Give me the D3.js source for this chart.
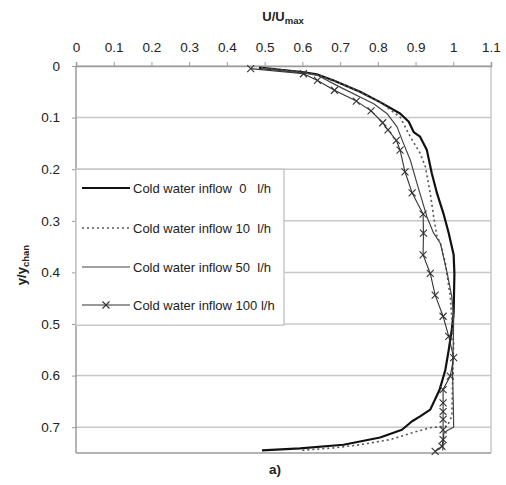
<!DOCTYPE html>
<html><head><meta charset="utf-8">
<script src="https://cdn.jsdelivr.net/npm/d3@7"></script>
<style>body{margin:0;background:#fff}svg{display:block;font-family:"Liberation Sans",Arial,sans-serif}</style>
</head><body><svg id="c" width="506" height="485"></svg>
<script>
const xTicks = [0,0.1,0.2,0.3,0.4,0.5,0.6,0.7,0.8,0.9,1,1.1];
const yTicks = [0,0.1,0.2,0.3,0.4,0.5,0.6,0.7];
const seriesNames = ["Cold water inflow  0   l/h","Cold water inflow 10  l/h","Cold water inflow 50  l/h","Cold water inflow 100 l/h"];
// [U/Umax, y/ychan]
const s0 = [[0.485,0.003],[0.6,0.012],[0.638,0.016],[0.683,0.028],[0.753,0.05],[0.806,0.07],[0.859,0.092],[0.882,0.108],[0.895,0.128],[0.912,0.137],[0.930,0.163],[0.943,0.208],[0.957,0.247],[0.974,0.286],[0.988,0.324],[1.001,0.366],[1.003,0.402],[1.002,0.44],[1.001,0.479],[0.996,0.511],[0.988,0.55],[0.979,0.589],[0.964,0.627],[0.939,0.666],[0.912,0.679],[0.890,0.689],[0.864,0.705],[0.806,0.72],[0.709,0.734],[0.594,0.741],[0.493,0.745]];
const s10 = [[0.49,0.003],[0.6,0.012],[0.64,0.017],[0.685,0.029],[0.755,0.051],[0.81,0.072],[0.859,0.099],[0.886,0.137],[0.912,0.169],[0.926,0.195],[0.939,0.247],[0.948,0.292],[0.957,0.331],[0.966,0.344],[0.979,0.382],[0.992,0.447],[0.996,0.485],[1.001,0.537],[0.999,0.589],[0.996,0.679],[0.984,0.698],[0.939,0.701],[0.895,0.710],[0.833,0.724],[0.753,0.734],[0.683,0.740],[0.594,0.745]];
const s50 = [[0.49,0.004],[0.6,0.013],[0.64,0.018],[0.70,0.041],[0.789,0.073],[0.824,0.092],[0.851,0.118],[0.868,0.150],[0.886,0.182],[0.904,0.228],[0.917,0.26],[0.930,0.292],[0.948,0.324],[0.966,0.344],[0.984,0.402],[0.996,0.447],[1.001,0.485],[1.0,0.54],[0.998,0.595],[1.0,0.65],[1.001,0.700],[0.985,0.706],[0.975,0.712],[0.972,0.745]];
const s100 = [[0.463,0.005],[0.603,0.015],[0.64,0.028],[0.685,0.047],[0.743,0.068],[0.782,0.087],[0.813,0.110],[0.827,0.124],[0.849,0.144],[0.859,0.163],[0.872,0.205],[0.891,0.246],[0.920,0.287],[0.921,0.324],[0.920,0.366],[0.939,0.402],[0.952,0.444],[0.973,0.485],[0.988,0.524],[1.001,0.565],[0.992,0.601],[0.973,0.627],[0.973,0.653],[0.973,0.670],[0.973,0.685],[0.973,0.705],[0.973,0.724],[0.970,0.737],[0.952,0.747]];

const svg = d3.select("#c");
const L=76,R=491,T=66,B=453;
const x = d3.scaleLinear().domain([0,1.1]).range([L,R]);
const y = d3.scaleLinear().domain([0,0.75]).range([T,B]);
const grid="#c8c8c8", axc="#9a9a9a", txt="#222";

svg.append("g").selectAll("line").data(yTicks).join("line")
  .attr("x1",L).attr("x2",R).attr("y1",d=>y(d)).attr("y2",d=>y(d))
  .attr("stroke",grid).attr("stroke-width",1.5);
svg.append("line").attr("x1",L).attr("x2",L).attr("y1",T).attr("y2",B).attr("stroke",axc).attr("stroke-width",1.5);
svg.append("line").attr("x1",R).attr("x2",R).attr("y1",T).attr("y2",B).attr("stroke",grid).attr("stroke-width",1.5);
svg.append("line").attr("x1",L).attr("x2",R).attr("y1",B).attr("y2",B).attr("stroke",axc).attr("stroke-width",1.5);

const xa = svg.append("g").attr("transform",`translate(0,${T})`)
  .call(d3.axisTop(x).tickValues(xTicks).tickFormat(d=>String(d)).tickSize(4).tickPadding(10));
xa.select(".domain").attr("stroke",axc).attr("stroke-width",1.5);
xa.selectAll(".tick line").attr("stroke",axc);
xa.selectAll("text").attr("fill",txt).style("font-size","13.5px").style("font-family","Liberation Sans, Arial, sans-serif");
const ya = svg.append("g").attr("transform",`translate(${L},0)`)
  .call(d3.axisLeft(y).tickValues(yTicks).tickFormat(d=>String(d)).tickSize(4).tickPadding(12));
ya.select(".domain").remove();
ya.selectAll(".tick line").attr("stroke",axc);
ya.selectAll("text").attr("fill",txt).style("font-size","13.5px").style("font-family","Liberation Sans, Arial, sans-serif");

const tt = svg.append("text").attr("x",283).attr("y",21).attr("text-anchor","middle")
  .attr("font-weight","bold").attr("font-size",13).attr("fill",txt);
tt.append("tspan").text("U/U");
tt.append("tspan").attr("font-size",9.5).attr("dy",3).text("max");
const yt = svg.append("text").attr("transform","translate(26,265) rotate(-90)").attr("text-anchor","middle")
  .attr("font-weight","bold").attr("font-size",13).attr("fill",txt);
yt.append("tspan").text("y/y");
yt.append("tspan").attr("font-size",9.5).attr("dy",3).text("chan");
svg.append("text").attr("x",275).attr("y",474).attr("text-anchor","middle").attr("font-weight","bold")
  .attr("font-size",13.5).attr("fill",txt).text("a)");

const line = d3.line().x(d=>x(d[0])).y(d=>y(d[1]));
const styles = [
  {data:s0, stroke:"#111", w:2.2, dash:null},
  {data:s10, stroke:"#555", w:1.6, dash:"2,3"},
  {data:s50, stroke:"#444", w:1.2, dash:null},
  {data:s100, stroke:"#333", w:1.1, dash:null}
];
styles.forEach(s=>{
  svg.append("path").datum(s.data).attr("d",line).attr("fill","none")
    .attr("stroke",s.stroke).attr("stroke-width",s.w).attr("stroke-dasharray",s.dash)
    .attr("stroke-linejoin","round");
});
function cross(g,cx,cy,r){
  g.append("path").attr("d",`M${cx-r},${cy-r}L${cx+r},${cy+r}M${cx-r},${cy+r}L${cx+r},${cy-r}`)
   .attr("stroke","#333").attr("stroke-width",1.1).attr("fill","none");
}
const mk = svg.append("g");
s100.forEach(d=>cross(mk,x(d[0]),y(d[1]),3.5));

const lg = svg.append("g");
lg.append("rect").attr("x",L).attr("y",y(0.2)).attr("width",208).attr("height",156)
  .attr("fill","#fff").attr("stroke",grid).attr("stroke-width",1.5);
const ly=[188,228,267,305];
styles.forEach((s,i)=>{
  lg.append("line").attr("x1",82).attr("x2",130).attr("y1",ly[i]).attr("y2",ly[i])
    .attr("stroke",s.stroke).attr("stroke-width",s.w).attr("stroke-dasharray",s.dash);
  if(i===3) cross(lg,106,ly[i],3.5);
  lg.append("text").attr("x",133).attr("y",ly[i]+4.5).attr("font-size",13).attr("fill",txt)
    .style("white-space","pre").attr("xml:space","preserve").text(seriesNames[i]);
});
</script></body></html>
